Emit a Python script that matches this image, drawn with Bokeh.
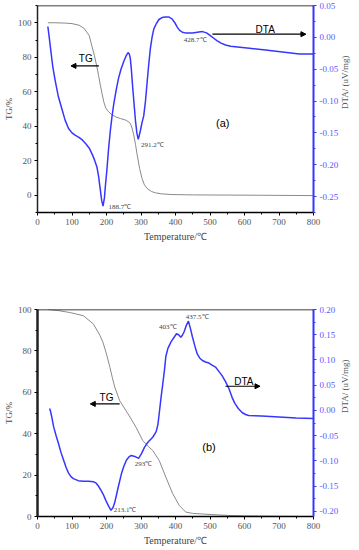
import math
from bokeh.plotting import figure
from bokeh.models import (LinearAxis, Range1d, FixedTicker, PrintfTickFormatter,
                          Arrow, NormalHead, Label, Span)
from bokeh.layouts import column
from bokeh.embed import file_html
from bokeh.resources import INLINE

# ---------------- data : panel (a) ----------------
a_tg_temp = [30, 50, 80, 100, 120, 135, 150, 158, 165, 172, 177, 182, 187, 192, 198, 206,
             215, 226, 240, 255, 262, 269, 274, 279, 284, 289, 296, 303, 310, 318, 330,
             342, 360, 390, 450, 550, 650, 800]
a_tg_val = [100, 100, 99.8, 99.5, 98.6, 96.8, 92.5, 86.2, 81, 74.6, 69.5, 64, 59, 54.2, 50.5, 48.4,
            46.8, 45.5, 44.5, 43.6, 42.8, 41.7, 39, 34.9, 29.5, 23.3, 15.5, 9.7, 6, 3.9, 2.2,
            1.4, 0.8, 0.4, 0.2, 0.1, 0, -0.2]
a_dta_temp = [30, 34, 38, 44, 51, 60, 71, 80, 90, 100, 110, 120, 130, 140, 150, 158, 165,
              172, 177, 182, 186, 190, 194, 197, 201, 206, 211, 216, 221, 228, 235, 242, 250,
              256, 262.5, 266, 269, 272, 276, 280, 284, 288, 292, 295, 298, 303, 308, 313,
              318, 322, 327, 332, 337, 344, 352, 361, 371, 380, 390, 398, 405, 412, 420, 428.7,
              439, 450, 463, 478, 490, 500, 510, 520, 532, 545, 560, 580, 614, 661, 710, 759, 800]
a_dta_val = [0.017, 0.0, -0.018, -0.045, -0.067, -0.092, -0.113, -0.130, -0.143, -0.150, -0.154,
             -0.157, -0.161, -0.167, -0.174, -0.183, -0.192, -0.203, -0.218, -0.239, -0.256, -0.265,
             -0.252, -0.232, -0.209, -0.175, -0.147, -0.124, -0.105, -0.083, -0.064, -0.050, -0.038,
             -0.030, -0.024, -0.026, -0.033, -0.050, -0.079, -0.105, -0.131, -0.150, -0.160, -0.154,
             -0.147, -0.134, -0.123, -0.100, -0.069, -0.045, -0.018, 0.000, 0.013, 0.021, 0.028,
             0.031, 0.032, 0.032, 0.029, 0.023, 0.016, 0.011, 0.008, 0.007,
             0.007, 0.007, 0.008, 0.009, 0.007, 0.003, -0.001, -0.005, -0.009, -0.012, -0.014,
             -0.015, -0.017, -0.020, -0.023, -0.026, -0.026]

# ---------------- data : panel (b) ----------------
b_tg_temp = [30, 60, 95, 133, 162, 181, 190, 200, 210, 217, 224, 238, 257, 270, 286, 305,
             320, 334, 353, 372, 392, 411, 430, 450, 478, 520, 555, 600, 700, 800]
b_tg_val = [100, 99.5, 98.5, 97, 93, 87.5, 84, 78.5, 72, 67, 62.5, 56, 51, 47.5, 43, 36.7,
            34, 31.9, 27, 19, 11, 5.3, 2.1, 1.5, 1.2, 0.8, 0.5, 0.3, 0.1, 0]
b_dta_temp = [35, 38, 42, 47, 54, 61, 68, 76, 83, 90, 97, 104, 118, 133, 148, 162, 170, 176,
              183, 190.5, 198, 205, 213.1, 219, 224, 229, 234, 243, 250, 258, 265, 272, 282,
              293, 301, 310, 320, 334, 344, 349, 353, 358, 363, 368, 372, 378, 387, 395, 403,
              409, 415.5, 420, 425, 431, 437.5, 443, 449, 456, 463, 470, 478, 487, 497, 506,
              516, 525, 535, 545, 555, 564, 572, 582, 593, 603, 612, 650, 700, 750, 800]
b_dta_val = [0.004, -0.002, -0.015, -0.033, -0.050, -0.066, -0.083, -0.099, -0.113, -0.124,
             -0.131, -0.135, -0.139, -0.140, -0.140, -0.141, -0.144, -0.149, -0.157, -0.166,
             -0.178, -0.188, -0.198, -0.192, -0.182, -0.167, -0.152, -0.126, -0.111, -0.098,
             -0.092, -0.089, -0.091, -0.095, -0.086, -0.073, -0.063, -0.053, -0.042, -0.028,
             -0.005, 0.025, 0.052, 0.080, 0.107, 0.123, 0.136, 0.144, 0.152, 0.150, 0.145,
             0.149, 0.156, 0.168, 0.177, 0.163, 0.146, 0.128, 0.112, 0.104, 0.099, 0.096, 0.094,
             0.090, 0.086, 0.078, 0.069, 0.057, 0.043, 0.026, 0.014, 0.004, -0.004, -0.008,
             -0.010, -0.011, -0.013, -0.015, -0.016]

# ---------------- axes / labels ----------------
x_ticks = [0, 100, 200, 300, 400, 500, 600, 700, 800]
x_minor = [50, 150, 250, 350, 450, 550, 650, 750]
tg_ticks = [0, 20, 40, 60, 80, 100]
a_tg_minor = [-10, 10, 30, 50, 70, 90, 110]
b_tg_minor = [10, 30, 50, 70, 90]
a_dta_ticks = [-0.25, -0.20, -0.15, -0.10, -0.05, 0.0, 0.05]
a_dta_minor = [-0.275, -0.225, -0.175, -0.125, -0.075, -0.025, 0.025]
b_dta_ticks = [-0.20, -0.15, -0.10, -0.05, 0.0, 0.05, 0.10, 0.15, 0.20]
b_dta_minor = [-0.175, -0.125, -0.075, -0.025, 0.025, 0.075, 0.125, 0.175]

x_title = "Temperature/℃"
tg_title = "TG/%"
dta_title = "DTA/ (uV/mg)"

# annotations: (text, x, y, align)
a_notes = [("188.7℃", 206, -7, "left"), ("291.2℃", 300, 29, "left"), ("428.7℃", 424, 90, "left")]
b_notes = [("403℃", 403, 91.5, "right"), ("437.5℃", 430, 96.3, "left"),
           ("293℃", 282, 25.5, "left"), ("213.1℃", 221, 3.2, "left")]

BLUE = "#3636ff"
GREY = "#8a8a8a"
SERIF = "Liberation Serif"
SANS = "Liberation Sans"


def panel(height, top, bottom, yl, yr, tg_minor, dta_ticks, dta_minor,
          tg_t, tg_v, dta_t, dta_v, notes, tag, tag_pos, tg_lab, tg_arrow,
          dta_lab, dta_arrow, left_w):
    p = figure(width=359, height=height, x_range=Range1d(0, 800), y_range=Range1d(*yl),
               output_backend="svg", toolbar_location=None,
               min_border_left=35, min_border_right=46, min_border_top=top,
               min_border_bottom=bottom)
    p.extra_y_ranges = {"dta": Range1d(*yr)}
    p.grid.visible = False
    p.outline_line_color = None
    p.background_fill_color = "white"

    xa = p.xaxis[0]
    xa.ticker = FixedTicker(ticks=x_ticks, minor_ticks=x_minor)
    xa.axis_label = x_title
    xa.axis_label_text_font = SERIF
    xa.axis_label_text_font_style = "normal"
    xa.axis_label_text_font_size = "10px"
    xa.axis_label_text_color = "#444444"
    xa.axis_label_standoff = 3
    xa.major_label_text_font = SERIF
    xa.major_label_text_font_size = "9px"
    xa.major_label_text_color = "#555555"
    xa.major_label_standoff = 3
    xa.axis_line_color = "black"
    xa.axis_line_width = 1.5
    xa.major_tick_out = 3
    xa.major_tick_in = 0
    xa.minor_tick_out = 2
    xa.minor_tick_in = 0
    xa.major_tick_line_color = "black"
    xa.minor_tick_line_color = "black"

    ya = p.yaxis[0]
    ya.ticker = FixedTicker(ticks=tg_ticks, minor_ticks=tg_minor)
    ya.axis_label = tg_title
    ya.axis_label_text_font = SERIF
    ya.axis_label_text_font_style = "normal"
    ya.axis_label_text_font_size = "9px"
    ya.axis_label_text_color = "#444444"
    ya.axis_label_standoff = 1
    ya.major_label_text_font = SERIF
    ya.major_label_text_font_size = "9px"
    ya.major_label_text_color = "#555555"
    ya.major_label_standoff = 3
    ya.axis_line_color = "#222222"
    ya.axis_line_width = left_w
    ya.major_tick_out = 3
    ya.major_tick_in = 0
    ya.minor_tick_out = 2
    ya.minor_tick_in = 0

    ra = LinearAxis(y_range_name="dta",
                    ticker=FixedTicker(ticks=dta_ticks, minor_ticks=dta_minor),
                    formatter=PrintfTickFormatter(format="%.2f"))
    ra.axis_label = dta_title
    ra.axis_label_text_font = SERIF
    ra.axis_label_text_font_style = "normal"
    ra.axis_label_text_font_size = "9px"
    ra.axis_label_text_color = "#555555"
    ra.axis_label_standoff = 4
    if "axis_label_orientation" in LinearAxis.properties():
        ra.axis_label_orientation = math.pi / 2
    ra.major_label_text_font = SERIF
    ra.major_label_text_font_size = "9px"
    ra.major_label_text_color = "#5b5bff"
    ra.major_label_standoff = 3
    ra.axis_line_color = BLUE
    ra.axis_line_width = 2
    ra.major_tick_line_color = BLUE
    ra.minor_tick_line_color = BLUE
    ra.major_tick_out = 3
    ra.major_tick_in = 0
    ra.minor_tick_out = 2
    ra.minor_tick_in = 0
    p.add_layout(ra, "right")

    p.add_layout(Span(location=yl[1], dimension="width", line_color="black", line_width=1.5))

    p.line(tg_t, tg_v, line_color=GREY, line_width=1)
    p.line(dta_t, dta_v, line_color=BLUE, line_width=1.5, y_range_name="dta")

    for txt, x, y, al in notes:
        p.add_layout(Label(x=x, y=y, text=txt, text_align=al, text_baseline="middle",
                           text_font=SERIF, text_font_size="7px", text_color="#444444"))

    p.add_layout(Label(x=tag_pos[0], y=tag_pos[1], text=tag, text_align="center",
                       text_baseline="middle", text_font=SANS, text_font_size="11px",
                       text_color="black"))
    p.add_layout(Label(x=tg_lab[0], y=tg_lab[1], text="TG", text_align="center",
                       text_baseline="middle", text_font=SANS, text_font_size="10px",
                       text_color="black"))
    p.add_layout(Arrow(end=NormalHead(size=5, fill_color="black", line_color="black"),
                       x_start=tg_arrow[0], y_start=tg_arrow[2], x_end=tg_arrow[1],
                       y_end=tg_arrow[2], line_color="black", line_width=1.2))
    p.add_layout(Label(x=dta_lab[0], y=dta_lab[1], text="DTA", text_align="center",
                       text_baseline="middle", text_font=SANS, text_font_size="10px",
                       text_color="black", y_range_name="dta"))
    p.add_layout(Arrow(end=NormalHead(size=5, fill_color="black", line_color="black"),
                       x_start=dta_arrow[0], y_start=dta_arrow[2], x_end=dta_arrow[1],
                       y_end=dta_arrow[2], line_color="black", line_width=1.2,
                       y_range_name="dta"))
    return p


pa = panel(257, 5, 45, (-10, 110), (-0.275, 0.05), a_tg_minor, a_dta_ticks, a_dta_minor,
           a_tg_temp, a_tg_val, a_dta_temp, a_dta_val, a_notes, "(a)", (537, 42),
           (140, 79), (178, 97, 75), (660, 0.012), (507, 778, 0.005), 1.5)
pb = panel(293, 52, 34, (0, 100), (-0.21, 0.20), b_tg_minor, b_dta_ticks, b_dta_minor,
           b_tg_temp, b_tg_val, b_dta_temp, b_dta_val, b_notes, "(b)", (497, 33.8),
           (200, 57.5), (238, 153, 54.4), (598, 0.058), (545, 645, 0.048), 2.5)

layout = column(pa, pb)
open("out.html", "w").write(file_html(layout, INLINE))
